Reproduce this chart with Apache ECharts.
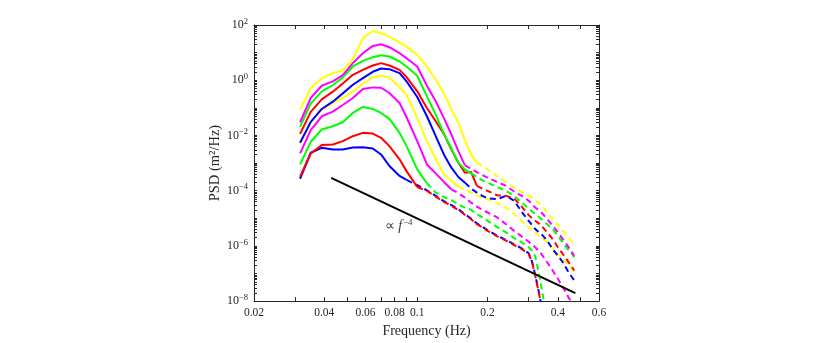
<!DOCTYPE html>
<html>
<head>
<meta charset="utf-8">
<script src="https://cdn.jsdelivr.net/npm/echarts@6/dist/echarts.min.js"></script>
<style>
html, body { margin: 0; padding: 0; background: #fff; }
#main { width: 830px; height: 343px; }
</style>
</head>
<body>
<div id="main"></div>
<script>
// frequency grid (Hz)
var freq = [0.0315, 0.035, 0.039, 0.0435, 0.048, 0.053, 0.0585, 0.0645, 0.07, 0.076,
  0.084, 0.09, 0.1, 0.11, 0.12, 0.13, 0.14, 0.15, 0.16, 0.17,
  0.18, 0.19, 0.2, 0.22, 0.24, 0.26, 0.28, 0.3, 0.31, 0.32,
  0.33, 0.34, 0.35, 0.36, 0.38, 0.4, 0.42, 0.44, 0.46, 0.47];

// PSD (m^2/Hz), lowest curve first
var blueLow = [2.7e-4, 2.36e-3, 3.57e-3, 3.11e-3, 3.11e-3, 3.67e-3, 3.77e-3, 3.38e-3, 2.05e-3, 7.8e-4,
  3.4e-4, 2.44e-4, 1.57e-4, 1.03e-4, 6.5e-5, 4.15e-5, 3.0e-5, 2.13e-5, 1.41e-5, 9.8e-6,
  6.5e-6, 4.9e-6, 3.73e-6, 2.33e-6, 1.63e-6, 1.14e-6, 8.1e-7, 5.4e-7, 2.69e-7, 8.9e-8,
  2.56e-8, 7.0e-9, null, null, null, null, null, null, null, null];
var redLow = [3.2e-4, 2.23e-3, 4.46e-3, 4.71e-3, 6.2e-3, 9.4e-3, 1.24e-2, 1.17e-2, 8.2e-3, 4.1e-3,
  1.36e-3, 5.1e-4, 1.36e-4, 9.8e-5, 6.1e-5, 3.9e-5, 2.81e-5, 2.02e-5, 1.33e-5, 9.3e-6,
  6.1e-6, 4.66e-6, 3.5e-6, 2.2e-6, 1.54e-6, 1.07e-6, 7.7e-7, 5.1e-7, 2.55e-7, 8.4e-8,
  2.4e-8, 7.0e-9, null, null, null, null, null, null, null, null];
var greenLow = [8.9e-4, 5.9e-3, 1.64e-2, 2.16e-2, 3.01e-2, 6.53e-2, 1.075e-1, 9.1e-2, 6.53e-2, 3.97e-2,
  1.24e-2, 4.1e-3, 5.9e-4, 1.85e-4, 8.5e-5, 5.9e-5, 4.5e-5, 3.2e-5, 2.45e-5, 2.02e-5,
  1.41e-5, 1.07e-5, 8.1e-6, 4.8e-6, 3.08e-6, 1.92e-6, 1.34e-6, 8.9e-7, 6.7e-7, 4.2e-7,
  1.28e-7, 3.2e-8, 8.0e-9, null, null, null, null, null, null, null];
var magentaLow = [2.23e-3, 1.55e-2, 4.95e-2, 7.3e-2, 1.27e-1, 2.27e-1, 4.79e-1, 5.5e-1, 5.35e-1, 3.44e-1,
  1.5e-1, 4.56e-2, 6.2e-3, 8.9e-4, 4.24e-4, 2.07e-4, 1.12e-4, 8.1e-5, 5.6e-5, 3.7e-5,
  2.66e-5, 2.02e-5, 1.62e-5, 1.07e-5, 6.1e-6, 3.5e-6, 2.2e-6, 1.42e-6, 1.1e-6, 8.9e-7,
  6.7e-7, 5.1e-7, 3.55e-7, 2.55e-7, 1.28e-7, 6.4e-8, 3.2e-8, 1.6e-8, 8.0e-9, null];
var yellowLow = [5.1e-3, 2.93e-2, 8.6e-2, 1.5e-1, 2.27e-1, 3.84e-1, 7.46e-1, 1.26, 1.45, 1.26,
  5.66e-1, 2.99e-1, 4.31e-2, 6.2e-3, 1.43e-3, 3.9e-4, 2.24e-4, 1.4e-4, 1.06e-4, 8.5e-5,
  6.8e-5, 5.6e-5, 4.9e-5, 3.5e-5, 2.45e-5, 1.41e-5, 8.1e-6, 4.66e-6, 3.84e-6, 3.08e-6,
  2.46e-6, 2.03e-6, 1.67e-6, 1.34e-6, 8.1e-7, 5.1e-7, 3.36e-7, 2.22e-7, 1.47e-7, 1.11e-7];
var blueHigh = [5.4e-3, 3.09e-2, 9.1e-2, 1.67e-1, 3.34e-1, 6.86e-1, 1.19, 2.02, 2.66, 2.52,
  1.81, 9.05e-1, 2.46e-1, 4.95e-2, 9.4e-3, 2.05e-3, 6.8e-4, 3.13e-4, 1.95e-4, 1.19e-4,
  8.5e-5, 6.5e-5, 5.3e-5, 4.9e-5, 6.5e-5, 4.3e-5, 1.71e-5, 8.1e-6, 5.7e-6, 4.06e-6,
  3.25e-6, 2.68e-6, 2.03e-6, 1.54e-6, 7.7e-7, 4.4e-7, 2.55e-7, 1.28e-7, 7.3e-8, 5.6e-8];
var redHigh = [1.14e-2, 7.1e-2, 2.03e-1, 3.84e-1, 7.67e-1, 1.57, 2.38, 3.42, 4.15, 3.42,
  2.38, 1.3, 3.95e-1, 9.9e-2, 3.27e-2, 1.14e-2, 3.11e-3, 1.03e-3, 4.48e-4, 4.7e-4,
  1.48e-4, 1.19e-4, 9.8e-5, 6.8e-5, 6.5e-5, 5.2e-5, 2.66e-5, 1.3e-5, 1.01e-5, 8.1e-6,
  6.7e-6, 5.4e-6, 4.06e-6, 3.08e-6, 1.77e-6, 8.9e-7, 5.1e-7, 2.93e-7, 1.68e-7, 1.28e-7];
var greenHigh = [2.04e-2, 1.42e-1, 3.95e-1, 6.68e-1, 1.26, 3.15, 5.03, 6.83, 8.06, 7.22,
  4.76, 3.15, 1.45, 2.61e-1, 5.69e-2, 1.14e-2, 3.38e-3, 1.03e-3, 5.9e-4, 4.24e-4,
  3.13e-4, 2.37e-4, 1.95e-4, 1.36e-4, 9.8e-5, 6.5e-5, 3.7e-5, 2.26e-5, 1.76e-5, 1.41e-5,
  1.16e-5, 9.3e-6, 7.5e-6, 6.1e-6, 4.06e-6, 2.33e-6, 1.34e-6, 7.7e-7, 5.1e-7, 3.86e-7];
var magentaHigh = [3.01e-2, 2.27e-1, 6.32e-1, 9.05e-1, 1.53, 4.15, 9.5, 17.5, 20.1, 15.7,
  9.5, 6.28, 3.15, 6.32e-1, 1.72e-1, 4.31e-2, 1.08e-2, 2.71e-3, 8.2e-4, 6.2e-4,
  4.7e-4, 3.7e-4, 2.96e-4, 2.07e-4, 1.48e-4, 9.3e-5, 6.5e-5, 4.3e-5, 3.2e-5, 2.45e-5,
  2.02e-5, 1.62e-5, 1.23e-5, 9.3e-6, 5.4e-6, 3.08e-6, 1.77e-6, 1.02e-6, 5.8e-7, 4.4e-7];
var yellowHigh = [8.6e-2, 5.2e-1, 1.19, 1.81, 2.26, 5.78, 33.0, 60.8, 50.1, 38.0,
  23.1, 16.5, 8.3, 3.15, 1.04, 3.44e-1, 8.6e-2, 2.85e-2, 6.75e-3, 2.05e-3,
  1.03e-3, 7.8e-4, 5.9e-4, 3.4e-4, 2.07e-4, 1.29e-4, 9.0e-5, 6.5e-5, 5.5e-5, 4.5e-5,
  3.7e-5, 3.0e-5, 2.26e-5, 1.62e-5, 9.3e-6, 5.7e-6, 3.5e-6, 2.2e-6, 1.42e-6, 1.17e-6];

// index where each curve turns from solid to dashed
var solidEnd = [11, 12, 13, 16, 17, 18, 20, 19, 18, 20];
var curveColors = ['#0000ff', '#ff0000', '#00ff00', '#ff00ff', '#ffff00',
  '#0000ff', '#ff0000', '#00ff00', '#ff00ff', '#ffff00'];
var curveData = [blueLow, redLow, greenLow, magentaLow, yellowLow,
  blueHigh, redHigh, greenHigh, magentaHigh, yellowHigh];

// f^-4 reference line end points and its label position
var refLine = [[0.0428, 2.9e-4], [0.475, 1.96e-8]];
var refLabelAt = [0.0725, 5.1e-6];

var xTicks = [0.02, 0.03, 0.04, 0.05, 0.06, 0.07, 0.08, 0.09, 0.1, 0.2, 0.3, 0.4, 0.5, 0.6];
var xLabels = [0.02, 0.04, 0.06, 0.08, 0.1, 0.2, 0.4, 0.6];
var yExps = [-8, -7, -6, -5, -4, -3, -2, -1, 0, 1, 2];
var yLabelExps = [-8, -6, -4, -2, 0, 2];

function pairs(vals, from, to) {
  var out = [];
  for (var i = from; i <= to; i++) {
    if (vals[i] != null) out.push([freq[i], vals[i]]);
  }
  return out;
}

var yTicks = [];
yExps.forEach(function (e) {
  for (var m = 1; m <= 9; m++) {
    if (e === 2 && m > 1) break;
    yTicks.push(+(m * Math.pow(10, e)).toPrecision(3));
  }
});
var yLabels = yLabelExps.map(function (e) { return Math.pow(10, e); });

var font = 'Liberation Serif';
var axisColor = '#262626';

function fmtY(v) {
  var e = Math.round(Math.log10(v));
  var s = e < 0 ? '\u2212' + (-e) : '' + e;
  return '{b|10}{s|' + s + '}';
}
function fmtX(v) {
  return String(+(+v).toPrecision(3));
}

var series = [];
curveData.forEach(function (vals, k) {
  series.push({
    type: 'line', symbol: 'none', silent: true,
    data: pairs(vals, 0, solidEnd[k]),
    lineStyle: { color: curveColors[k], width: 2 }
  });
  series.push({
    type: 'line', symbol: 'none', silent: true,
    data: pairs(vals, solidEnd[k], vals.length - 1),
    lineStyle: { color: curveColors[k], width: 2, type: [6, 4] }
  });
});
series.push({
  type: 'line', symbol: 'none', silent: true,
  data: refLine,
  lineStyle: { color: '#000', width: 2 }
});
series.push({
  type: 'scatter', symbolSize: 0, silent: true,
  data: [refLabelAt],
  label: {
    show: true, position: 'right', distance: 0,
    formatter: '{n|\u221d }{i|f}{s|\u22124}',
    rich: {
      n: { fontFamily: font, fontSize: 14, color: '#000' },
      i: { fontFamily: font, fontSize: 14, fontStyle: 'italic', color: '#000' },
      s: { fontFamily: font, fontSize: 9, color: '#000', padding: [0, 0, 8, 1] }
    }
  }
});

function xAxisCfg(pos, withLabels) {
  return {
    type: 'log', min: 0.02, max: 0.6, position: pos,
    axisLine: { show: true, lineStyle: { color: axisColor, width: 1 } },
    axisTick: { show: true, inside: true, length: 4, customValues: xTicks, lineStyle: { color: axisColor } },
    axisLabel: {
      show: withLabels, customValues: xLabels, formatter: fmtX, margin: 6,
      color: axisColor, fontFamily: font, fontSize: 11.5
    },
    splitLine: { show: false },
    name: withLabels ? 'Frequency (Hz)' : '',
    nameLocation: 'middle', nameGap: 18,
    nameTextStyle: { fontFamily: font, fontSize: 14, color: axisColor }
  };
}
function yAxisCfg(pos, withLabels) {
  return {
    type: 'log', min: 1e-8, max: 1e2, position: pos,
    axisLine: { show: true, lineStyle: { color: axisColor, width: 1 } },
    axisTick: { show: true, inside: true, length: 3, customValues: yTicks, lineStyle: { color: axisColor } },
    axisLabel: {
      show: withLabels, customValues: yLabels, formatter: fmtY, margin: 6,
      color: axisColor,
      rich: {
        b: { fontFamily: font, fontSize: 12, color: axisColor },
        s: { fontFamily: font, fontSize: 8.5, color: axisColor, padding: [0, 0, 7, 0] }
      }
    },
    splitLine: { show: false },
    name: withLabels ? 'PSD (m\u00b2/Hz)' : '',
    nameLocation: 'middle', nameGap: 30, nameRotate: 90,
    nameTextStyle: { fontFamily: font, fontSize: 14.5, color: axisColor }
  };
}

var chart = echarts.init(document.getElementById('main'), null, { renderer: 'canvas' });
chart.setOption({
  backgroundColor: '#fff',
  animation: false,
  grid: { left: 254, top: 25, width: 345, height: 277 },
  xAxis: [xAxisCfg('bottom', true), xAxisCfg('top', false)],
  yAxis: [yAxisCfg('left', true), yAxisCfg('right', false)],
  series: series
});
</script>
</body>
</html>
